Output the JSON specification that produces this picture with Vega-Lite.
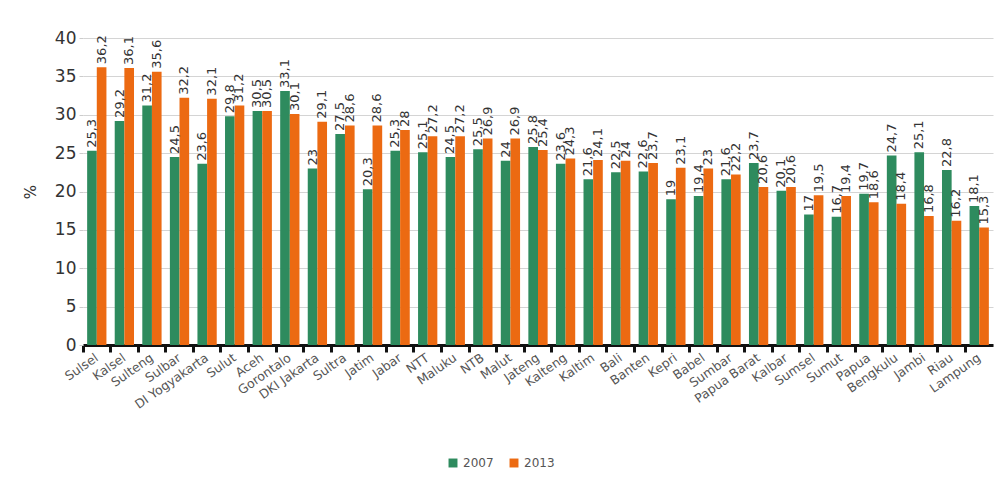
{
  "$schema": "https://vega.github.io/schema/vega-lite/v6.json",
  "width": 910,
  "height": 307,
  "autosize": "none",
  "padding": {"left": 83, "top": 38, "right": 2, "bottom": 134},
  "background": "white",
  "config": {
    "font": "DejaVu Sans",
    "view": {"stroke": null},
    "locale": {
      "number": {"decimal": ",", "thousands": ".", "grouping": [3], "currency": ["", ""]}
    }
  },
  "data": {
    "values": [
      {"provinsi": "Sulsel", "tahun": "2007", "persen": 25.3},
      {"provinsi": "Sulsel", "tahun": "2013", "persen": 36.2},
      {"provinsi": "Kalsel", "tahun": "2007", "persen": 29.2},
      {"provinsi": "Kalsel", "tahun": "2013", "persen": 36.1},
      {"provinsi": "Sulteng", "tahun": "2007", "persen": 31.2},
      {"provinsi": "Sulteng", "tahun": "2013", "persen": 35.6},
      {"provinsi": "Sulbar", "tahun": "2007", "persen": 24.5},
      {"provinsi": "Sulbar", "tahun": "2013", "persen": 32.2},
      {"provinsi": "DI Yogyakarta", "tahun": "2007", "persen": 23.6},
      {"provinsi": "DI Yogyakarta", "tahun": "2013", "persen": 32.1},
      {"provinsi": "Sulut", "tahun": "2007", "persen": 29.8},
      {"provinsi": "Sulut", "tahun": "2013", "persen": 31.2},
      {"provinsi": "Aceh", "tahun": "2007", "persen": 30.5},
      {"provinsi": "Aceh", "tahun": "2013", "persen": 30.5},
      {"provinsi": "Gorontalo", "tahun": "2007", "persen": 33.1},
      {"provinsi": "Gorontalo", "tahun": "2013", "persen": 30.1},
      {"provinsi": "DKI Jakarta", "tahun": "2007", "persen": 23},
      {"provinsi": "DKI Jakarta", "tahun": "2013", "persen": 29.1},
      {"provinsi": "Sultra", "tahun": "2007", "persen": 27.5},
      {"provinsi": "Sultra", "tahun": "2013", "persen": 28.6},
      {"provinsi": "Jatim", "tahun": "2007", "persen": 20.3},
      {"provinsi": "Jatim", "tahun": "2013", "persen": 28.6},
      {"provinsi": "Jabar", "tahun": "2007", "persen": 25.3},
      {"provinsi": "Jabar", "tahun": "2013", "persen": 28},
      {"provinsi": "NTT", "tahun": "2007", "persen": 25.1},
      {"provinsi": "NTT", "tahun": "2013", "persen": 27.2},
      {"provinsi": "Maluku", "tahun": "2007", "persen": 24.5},
      {"provinsi": "Maluku", "tahun": "2013", "persen": 27.2},
      {"provinsi": "NTB", "tahun": "2007", "persen": 25.5},
      {"provinsi": "NTB", "tahun": "2013", "persen": 26.9},
      {"provinsi": "Malut", "tahun": "2007", "persen": 24},
      {"provinsi": "Malut", "tahun": "2013", "persen": 26.9},
      {"provinsi": "Jateng", "tahun": "2007", "persen": 25.8},
      {"provinsi": "Jateng", "tahun": "2013", "persen": 25.4},
      {"provinsi": "Kalteng", "tahun": "2007", "persen": 23.6},
      {"provinsi": "Kalteng", "tahun": "2013", "persen": 24.3},
      {"provinsi": "Kaltim", "tahun": "2007", "persen": 21.6},
      {"provinsi": "Kaltim", "tahun": "2013", "persen": 24.1},
      {"provinsi": "Bali", "tahun": "2007", "persen": 22.5},
      {"provinsi": "Bali", "tahun": "2013", "persen": 24},
      {"provinsi": "Banten", "tahun": "2007", "persen": 22.6},
      {"provinsi": "Banten", "tahun": "2013", "persen": 23.7},
      {"provinsi": "Kepri", "tahun": "2007", "persen": 19},
      {"provinsi": "Kepri", "tahun": "2013", "persen": 23.1},
      {"provinsi": "Babel", "tahun": "2007", "persen": 19.4},
      {"provinsi": "Babel", "tahun": "2013", "persen": 23},
      {"provinsi": "Sumbar", "tahun": "2007", "persen": 21.6},
      {"provinsi": "Sumbar", "tahun": "2013", "persen": 22.2},
      {"provinsi": "Papua Barat", "tahun": "2007", "persen": 23.7},
      {"provinsi": "Papua Barat", "tahun": "2013", "persen": 20.6},
      {"provinsi": "Kalbar", "tahun": "2007", "persen": 20.1},
      {"provinsi": "Kalbar", "tahun": "2013", "persen": 20.6},
      {"provinsi": "Sumsel", "tahun": "2007", "persen": 17},
      {"provinsi": "Sumsel", "tahun": "2013", "persen": 19.5},
      {"provinsi": "Sumut", "tahun": "2007", "persen": 16.7},
      {"provinsi": "Sumut", "tahun": "2013", "persen": 19.4},
      {"provinsi": "Papua", "tahun": "2007", "persen": 19.7},
      {"provinsi": "Papua", "tahun": "2013", "persen": 18.6},
      {"provinsi": "Bengkulu", "tahun": "2007", "persen": 24.7},
      {"provinsi": "Bengkulu", "tahun": "2013", "persen": 18.4},
      {"provinsi": "Jambi", "tahun": "2007", "persen": 25.1},
      {"provinsi": "Jambi", "tahun": "2013", "persen": 16.8},
      {"provinsi": "Riau", "tahun": "2007", "persen": 22.8},
      {"provinsi": "Riau", "tahun": "2013", "persen": 16.2},
      {"provinsi": "Lampung", "tahun": "2007", "persen": 18.1},
      {"provinsi": "Lampung", "tahun": "2013", "persen": 15.3}
    ]
  },
  "encoding": {
    "x": {
      "field": "provinsi",
      "type": "nominal",
      "sort": null,
      "scale": {"paddingInner": 0, "paddingOuter": 0},
      "axis": {
        "title": null,
        "bandPosition": 0,
        "labelAngle": -35,
        "labelAlign": "right",
        "labelBaseline": "middle",
        "labelFontSize": 12.5,
        "labelColor": "#555555",
        "labelPadding": 4,
        "domainColor": "#111111",
        "domainWidth": 3,
        "tickColor": "#111111",
        "tickWidth": 3,
        "tickSize": 7,
        "grid": false
      }
    },
    "xOffset": {
      "field": "tahun",
      "type": "nominal",
      "scale": {"paddingInner": 0, "paddingOuter": 0.43}
    },
    "y": {
      "field": "persen",
      "type": "quantitative",
      "scale": {"domain": [0, 40], "nice": false},
      "axis": {
        "title": "%",
        "titleFontSize": 15,
        "titleFontWeight": "normal",
        "titleColor": "#333333",
        "titleX": -45,
        "values": [0, 5, 10, 15, 20, 25, 30, 35, 40],
        "labelFontSize": 17,
        "labelColor": "#333333",
        "labelPadding": 3,
        "domain": false,
        "tickColor": "#cccccc",
        "tickSize": 4,
        "gridColor": "#d4d4d4",
        "gridWidth": 1
      }
    }
  },
  "layer": [
    {
      "mark": {"type": "bar"},
      "encoding": {
        "color": {
          "field": "tahun",
          "type": "nominal",
          "scale": {"domain": ["2007", "2013"], "range": ["#2e8b5e", "#ec6a12"]},
          "legend": {
            "title": null,
            "orient": "none",
            "direction": "horizontal",
            "legendX": 364,
            "legendY": 419,
            "symbolType": "square",
            "symbolSize": 80,
            "symbolStrokeWidth": 0,
            "labelFontSize": 12,
            "labelColor": "#555555",
            "columnPadding": 14
          }
        }
      }
    },
    {
      "mark": {
        "type": "text",
        "angle": 270,
        "align": "left",
        "baseline": "middle",
        "dx": 3,
        "fontSize": 13,
        "color": "#333333"
      },
      "encoding": {
        "text": {"field": "persen", "type": "quantitative", "format": ".3~r"}
      }
    }
  ]
}
